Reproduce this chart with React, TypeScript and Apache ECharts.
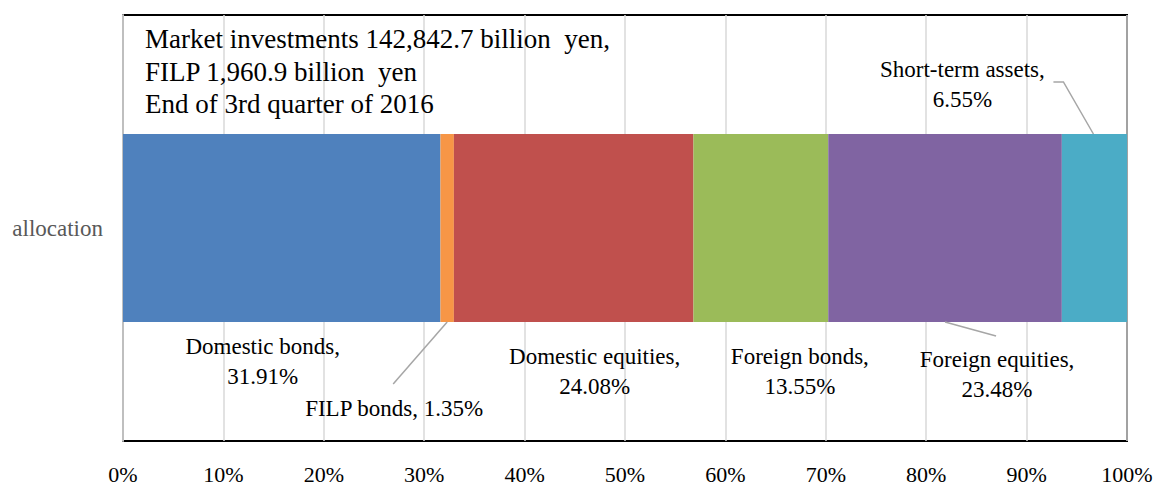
import React, { useEffect, useRef } from "react";
import * as echarts from "echarts";

const categories = ["allocation"];
const segmentNames = [
  "Domestic bonds",
  "FILP bonds",
  "Domestic equities",
  "Foreign bonds",
  "Foreign equities",
  "Short-term assets",
];
const segmentValues = [31.91, 1.35, 24.08, 13.55, 23.48, 6.55];
const segmentColors = ["#4F81BD", "#F79646", "#C0504D", "#9BBB59", "#8064A2", "#4BACC6"];
const infoLines = [
  "Market investments 142,842.7 billion  yen,",
  "FILP 1,960.9 billion  yen",
  "End of 3rd quarter of 2016",
];
const xMin = 0;
const xMax = 100;
const xInterval = 10;

const FONT = "Liberation Serif";
const BAR_W = 188;

// label placement (relative to each segment)
const labelPlacement: any[] = [
  { position: ["50%", "100%"], offset: [-19, 9], vAlign: "top", oneLine: false },
  { position: ["50%", "100%"], offset: [-53, 71], vAlign: "top", oneLine: true },
  { position: ["50%", "100%"], offset: [21, 19], vAlign: "top", oneLine: false },
  { position: ["50%", "100%"], offset: [39, 19], vAlign: "top", oneLine: false },
  { position: ["50%", "100%"], offset: [52, 22], vAlign: "top", oneLine: false },
  { position: ["50%", 0], offset: [-132, -20], vAlign: "bottom", oneLine: false },
];

export default function App() {
  const ref = useRef<HTMLDivElement>(null);

  useEffect(() => {
    document.body.style.margin = "0";
    const chart = echarts.init(ref.current!, null, { renderer: "svg" });
    const total = segmentValues.reduce((a, b) => a + b, 0);
    const shares = segmentValues.map((v) => (v / total) * 100);

    const series = segmentNames.map((name, i) => {
      const lp = labelPlacement[i];
      return {
        name,
        type: "bar",
        stack: "total",
        barWidth: BAR_W,
        data: [shares[i]],
        itemStyle: { color: segmentColors[i] },
        label: {
          show: true,
          position: lp.position,
          offset: lp.offset,
          align: "center",
          verticalAlign: lp.vAlign,
          fontFamily: FONT,
          fontSize: 23,
          lineHeight: 30,
          color: "#000",
          formatter: () =>
            lp.oneLine
              ? `${name}, ${segmentValues[i].toFixed(2)}%`
              : `${name},\n${segmentValues[i].toFixed(2)}%`,
        },
      };
    });

    const option: any = {
      animation: false,
      grid: {
        left: 123,
        top: 15,
        right: 29,
        bottom: 43,
        show: true,
        borderColor: "#000",
        borderWidth: 2,
      },
      xAxis: {
        type: "value",
        min: xMin,
        max: xMax,
        interval: xInterval,
        axisLine: { show: false },
        axisTick: { show: false },
        axisLabel: {
          formatter: "{value}%",
          fontFamily: FONT,
          fontSize: 22,
          color: "#000",
          margin: 22,
        },
        splitLine: { show: true, lineStyle: { color: "#d9d9d9", width: 1.5 } },
      },
      yAxis: {
        type: "category",
        data: categories,
        axisTick: { show: false },
        axisLine: { show: true, lineStyle: { color: "#bfbfbf", width: 2 } },
        axisLabel: {
          fontFamily: FONT,
          fontSize: 23,
          color: "#595959",
          margin: 20,
        },
      },
      series,
    };
    chart.setOption(option);

    // leader lines computed from the axis scale
    const cum: number[] = [];
    let acc = 0;
    shares.forEach((s) => {
      cum.push(acc + s / 2);
      acc += s;
    });
    const center = (i: number) => chart.convertToPixel({ gridIndex: 0 }, [cum[i], 0]) as number[];
    const half = BAR_W / 2;
    const lineStyle = { stroke: "#a6a6a6", lineWidth: 1.5, fill: null };

    const [c1x, c1y] = center(1);
    const l1 = labelPlacement[1].offset;
    const [c4x, c4y] = center(4);
    const l4 = labelPlacement[4].offset;
    const [c5x, c5y] = center(5);

    const graphics: any[] = [
      {
        type: "polyline",
        z: 10,
        shape: {
          points: [
            [c1x, c1y + half],
            [c1x + l1[0] - 1, c1y + half + l1[1] - 9],
          ],
        },
        style: lineStyle,
      },
      {
        type: "polyline",
        z: 10,
        shape: {
          points: [
            [c4x, c4y + half],
            [c4x + l4[0] - 1, c4y + half + l4[1] - 8],
          ],
        },
        style: lineStyle,
      },
      {
        type: "polyline",
        z: 10,
        shape: {
          points: [
            [c5x - 1, c5y - half],
            [c5x - 31, c5y - half - 52],
            [c5x - 41, c5y - half - 52],
          ],
        },
        style: lineStyle,
      },
      {
        type: "text",
        z: 10,
        x: 145,
        y: 23,
        style: {
          text: infoLines.join("\n"),
          font: `27px ${FONT}`,
          lineHeight: 32.5,
          fill: "#000",
          verticalAlign: "top",
        },
      },
    ];
    chart.setOption({ graphic: graphics });

    return () => chart.dispose();
  }, []);

  return <div ref={ref} style={{ width: 1156, height: 485 }} />;
}
